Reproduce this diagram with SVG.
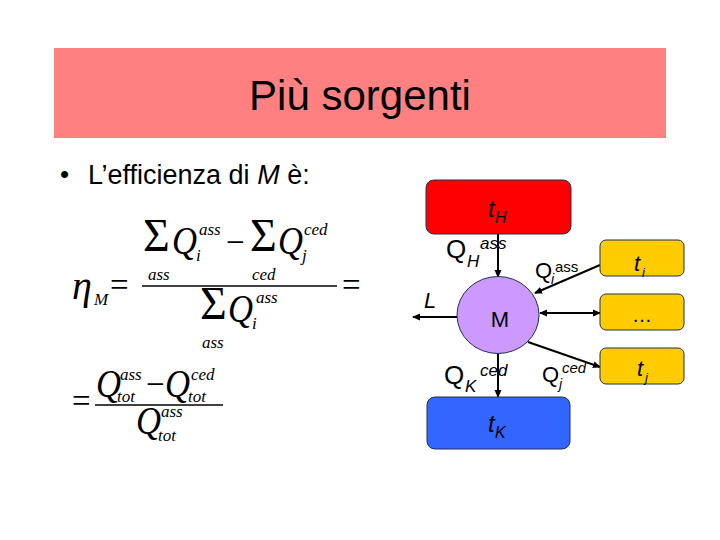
<svg xmlns="http://www.w3.org/2000/svg" width="720" height="540" viewBox="0 0 720 540">
<defs>
<marker id="ah" markerWidth="8" markerHeight="8" refX="7" refY="4" orient="auto" markerUnits="userSpaceOnUse"><path d="M0,0.5 L8,4 L0,7.5 z" fill="#000"/></marker>
<marker id="ahs" markerWidth="8" markerHeight="8" refX="1" refY="4" orient="auto" markerUnits="userSpaceOnUse"><path d="M8,0.5 L0,4 L8,7.5 z" fill="#000"/></marker>
</defs>
<style>
.s{font-family:"Liberation Sans",Arial,sans-serif;fill:#000}
.m{font-family:"Liberation Serif","Times New Roman",serif;fill:#000}
.it{font-style:italic}
.box{stroke:#203050;stroke-width:1}
.c{stroke:#000;stroke-width:2;fill:none}
.sig{font-size:46px}
.q{font-size:41px}
.sc{font-size:17px}
.op{font-size:33px}
</style>
<rect width="720" height="540" fill="#fff"/>
<g id="title">
<rect x="54" y="48" width="612" height="90" fill="#FF8080"/>
<text class="s" x="360" y="110" font-size="42" text-anchor="middle">Più sorgenti</text>
</g>
<g id="bullet">
<text class="s" x="60" y="183" font-size="26">•</text>
<text class="s" x="88" y="184" font-size="27">L’efficienza di <tspan font-style="italic">M</tspan> è:</text>
</g>
<g id="formula1">
<text class="m it" x="72" y="299" font-size="40">η</text>
<text class="m it" x="94" y="305" font-size="17">M</text>
<text class="m op" x="110" y="296">=</text>
<text class="m sig" x="143" y="251">Σ</text>
<text class="m it q" x="172" y="254" textLength="25" lengthAdjust="spacingAndGlyphs">Q</text>
<text class="m it sc" x="199" y="235">ass</text>
<text class="m it sc" x="196" y="261">i</text>
<text class="m op" x="226" y="253">−</text>
<text class="m sig" x="250" y="251">Σ</text>
<text class="m it q" x="278" y="254" textLength="25" lengthAdjust="spacingAndGlyphs">Q</text>
<text class="m it sc" x="304" y="235">ced</text>
<text class="m it sc" x="302" y="261">j</text>
<text class="m it sc" x="148" y="280">ass</text>
<text class="m it sc" x="252" y="280">ced</text>
<line x1="142" y1="286" x2="337" y2="286" stroke="#000" stroke-width="1.3"/>
<text class="m sig" x="200" y="319">Σ</text>
<text class="m it q" x="228" y="322" textLength="25" lengthAdjust="spacingAndGlyphs">Q</text>
<text class="m it sc" x="256" y="303">ass</text>
<text class="m it sc" x="252" y="329">i</text>
<text class="m it sc" x="202" y="348">ass</text>
<text class="m op" x="342" y="296">=</text>
</g>
<g id="formula2">
<text class="m op" x="72" y="412">=</text>
<text class="m it q" x="96" y="397" textLength="25" lengthAdjust="spacingAndGlyphs">Q</text>
<text class="m it sc" x="120" y="380">ass</text>
<text class="m it sc" x="117" y="402">tot</text>
<text class="m op" x="146" y="395">−</text>
<text class="m it q" x="165" y="397" textLength="25" lengthAdjust="spacingAndGlyphs">Q</text>
<text class="m it sc" x="191" y="380">ced</text>
<text class="m it sc" x="188" y="402">tot</text>
<line x1="95" y1="405" x2="223" y2="405" stroke="#000" stroke-width="1.3"/>
<text class="m it q" x="136" y="434" textLength="25" lengthAdjust="spacingAndGlyphs">Q</text>
<text class="m it sc" x="161" y="417">ass</text>
<text class="m it sc" x="158" y="441">tot</text>
</g>
<g id="connectors">
<line class="c" x1="498" y1="234" x2="498" y2="277" marker-end="url(#ah)"/>
<line class="c" x1="600" y1="265" x2="535" y2="293" marker-end="url(#ah)"/>
<line class="c" x1="540" y1="313" x2="600" y2="313" marker-start="url(#ahs)" marker-end="url(#ah)"/>
<line class="c" x1="528" y1="342" x2="600" y2="367" marker-end="url(#ah)"/>
<line class="c" x1="498" y1="354" x2="498" y2="397" marker-end="url(#ah)"/>
<line class="c" x1="457" y1="317" x2="413" y2="317" marker-end="url(#ah)"/>
</g>
<g id="tH">
<rect class="box" x="426" y="180" width="145" height="54" rx="8" fill="#FF0000"/>
<text class="s it" x="488" y="217" font-size="24">t</text>
<text class="s it" x="495" y="223" font-size="16">H</text>
</g>
<g id="M">
<ellipse class="box" cx="498" cy="315" rx="41" ry="38.5" fill="#CC99FF"/>
<text class="s" x="500" y="327" font-size="22" text-anchor="middle">M</text>
</g>
<g id="tK">
<rect class="box" x="427" y="397" width="143" height="52" rx="8" fill="#3366FF"/>
<text class="s it" x="488" y="432" font-size="24">t</text>
<text class="s it" x="495" y="438" font-size="16">K</text>
</g>
<g id="ti">
<rect class="box" x="600" y="240" width="84" height="36" rx="6" fill="#FFCC00"/>
<text class="s it" x="634" y="271" font-size="22">t</text>
<text class="s it" x="642" y="277" font-size="13">i</text>
</g>
<g id="dots">
<rect class="box" x="600" y="294" width="84" height="36" rx="6" fill="#FFCC00"/>
<text class="s" x="642" y="322" font-size="20" text-anchor="middle">…</text>
</g>
<g id="tj">
<rect class="box" x="600" y="348" width="84" height="36" rx="6" fill="#FFCC00"/>
<text class="s it" x="637" y="376" font-size="22">t</text>
<text class="s it" x="645" y="382" font-size="13">j</text>
</g>
<g id="labels">
<text class="s" x="446" y="258" font-size="26">Q</text>
<text class="s it" x="467" y="267" font-size="17">H</text>
<text class="s it" x="480" y="249" font-size="17">ass</text>
<text class="s" x="535" y="278" font-size="22">Q</text>
<text class="s it" x="551" y="284" font-size="14">i</text>
<text class="s" x="555" y="272" font-size="15">ass</text>
<text class="s it" x="424" y="308" font-size="22">L</text>
<text class="s" x="444" y="384" font-size="26">Q</text>
<text class="s it" x="465" y="392" font-size="17">K</text>
<text class="s it" x="480" y="376" font-size="17">ced</text>
<text class="s" x="542" y="382" font-size="22">Q</text>
<text class="s it" x="559" y="389" font-size="14">j</text>
<text class="s it" x="562" y="373" font-size="15">ced</text>
</g>
</svg>
